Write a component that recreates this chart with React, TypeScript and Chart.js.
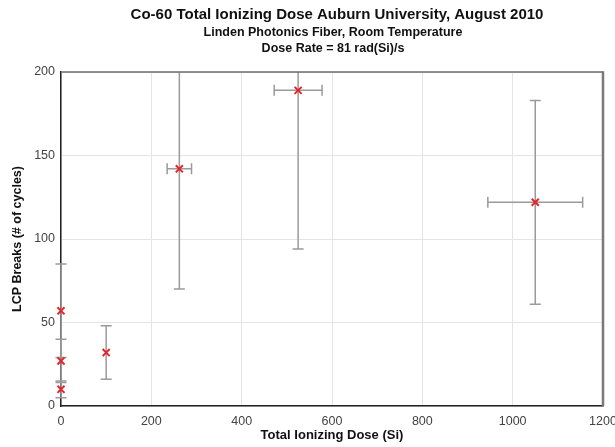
import React, { useEffect, useRef } from "react";
import { Chart, registerables } from "chart.js";

Chart.register(...registerables);

const titleLines = [
  "Co-60 Total Ionizing Dose Auburn University, August 2010",
  "Linden Photonics Fiber, Room Temperature",
  "Dose Rate = 81 rad(Si)/s",
];
const xTitle = "Total Ionizing Dose (Si)";
const yTitle = "LCP Breaks (# of cycles)";

const doseX = [0, 0, 0, 100, 262, 525, 1050];
const breaksY = [57, 27, 10, 32, 142, 189, 122];
const yErr = [28, 13, 5, 16, 72, 95, 61];
const xErr = [0, 0, 0, 0, 27, 53, 105];

const FONT = "'Liberation Sans', Arial, sans-serif";

const errorBarPlugin = {
  id: "errorBars",
  beforeDatasetsDraw(chart: any) {
    const { ctx, chartArea } = chart;
    const xs = chart.scales.x;
    const ys = chart.scales.y;
    ctx.save();
    ctx.beginPath();
    ctx.rect(chartArea.left - 12, chartArea.top, chartArea.right - chartArea.left + 24, chartArea.bottom - chartArea.top + 1);
    ctx.clip();
    ctx.strokeStyle = "#9a9a9a";
    ctx.lineWidth = 1.5;
    const cap = 5.5;
    for (let i = 0; i < doseX.length; i++) {
      const px = xs.getPixelForValue(doseX[i]);
      const py = ys.getPixelForValue(breaksY[i]);
      if (yErr[i] > 0) {
        const t = ys.getPixelForValue(breaksY[i] + yErr[i]);
        const b = ys.getPixelForValue(breaksY[i] - yErr[i]);
        ctx.beginPath();
        ctx.moveTo(px, t);
        ctx.lineTo(px, b);
        ctx.moveTo(px - cap, t);
        ctx.lineTo(px + cap, t);
        ctx.moveTo(px - cap, b);
        ctx.lineTo(px + cap, b);
        ctx.stroke();
      }
      if (xErr[i] > 0) {
        const l = xs.getPixelForValue(doseX[i] - xErr[i]);
        const r = xs.getPixelForValue(doseX[i] + xErr[i]);
        ctx.beginPath();
        ctx.moveTo(l, py);
        ctx.lineTo(r, py);
        ctx.moveTo(l, py - cap);
        ctx.lineTo(l, py + cap);
        ctx.moveTo(r, py - cap);
        ctx.lineTo(r, py + cap);
        ctx.stroke();
      }
    }
    ctx.restore();
  },
  afterDraw(chart: any) {
    const { ctx, chartArea } = chart;
    ctx.save();
    ctx.strokeStyle = "#6e6e6e";
    ctx.lineWidth = 1.5;
    ctx.beginPath();
    ctx.moveTo(chartArea.left, chartArea.top);
    ctx.lineTo(chartArea.right, chartArea.top);
    ctx.stroke();
    ctx.strokeStyle = "#7a7a7a";
    ctx.lineWidth = 2.5;
    ctx.beginPath();
    ctx.moveTo(chartArea.right, chartArea.top - 0.75);
    ctx.lineTo(chartArea.right, chartArea.bottom);
    ctx.stroke();
    // titles
    const cx = (chartArea.left + chartArea.right) / 2 + 1;
    ctx.fillStyle = "#111";
    ctx.textAlign = "center";
    ctx.textBaseline = "middle";
    ctx.font = `bold 15px ${FONT}`;
    ctx.fillText(titleLines[0], cx + 4, 15);
    ctx.font = `bold 12.5px ${FONT}`;
    ctx.fillText(titleLines[1], cx, 33);
    ctx.fillText(titleLines[2], cx, 49);
    ctx.restore();
  },
};

export default function App() {
  const ref = useRef<HTMLCanvasElement>(null);
  useEffect(() => {
    document.body.style.margin = "0";
    const chart = new Chart(ref.current!, {
      type: "scatter",
      data: {
        datasets: [
          {
            data: doseX.map((x, i) => ({ x, y: breaksY[i] })),
            pointStyle: "crossRot",
            pointRadius: 5,
            pointBorderWidth: 2,
            borderColor: "#e3262b",
            backgroundColor: "#e3262b",
            clip: false,
          } as any,
        ],
      },
      options: {
        animation: false,
        responsive: false,
        layout: { padding: { top: 72, right: 12, left: 0, bottom: 0 } },
        plugins: { legend: { display: false }, tooltip: { enabled: false }, title: { display: false } },
        scales: {
          x: {
            type: "linear",
            min: 0,
            max: 1200,
            ticks: { stepSize: 200, padding: 8, color: "#444", font: { family: FONT, size: 12.5 }, callback: (v: any) => String(v) },
            grid: { color: "#e4e4e4", drawTicks: false, lineWidth: 1 },
            border: { color: "#222", width: 1.5 },
            title: { display: true, text: xTitle, color: "#111", font: { family: FONT, size: 13, weight: "bold" }, padding: { top: 4, bottom: 4 } },
            afterFit(scale: any) {
              scale.height = 41;
              scale.paddingLeft = 0;
              scale.paddingRight = 0;
            },
          },
          y: {
            type: "linear",
            min: 0,
            max: 200,
            ticks: { stepSize: 50, padding: 6, color: "#444", font: { family: FONT, size: 12.5 }, callback: (v: any) => String(v) },
            grid: { color: "#e4e4e4", drawTicks: false, lineWidth: 1 },
            border: { color: "#222", width: 1.5 },
            title: { display: true, text: yTitle, color: "#111", font: { family: FONT, size: 12.5, weight: "bold" }, padding: { top: 10.5, bottom: 0 } },
            afterFit(scale: any) {
              scale.width = 61;
              scale.paddingTop = 0;
              scale.paddingBottom = 0;
            },
          },
        },
      },
      plugins: [errorBarPlugin],
    });
    return () => chart.destroy();
  }, []);
  return (
    <div style={{ width: 615, height: 447, background: "#fff" }}>
      <canvas ref={ref} width={615} height={447} style={{ display: "block" }} />
    </div>
  );
}
